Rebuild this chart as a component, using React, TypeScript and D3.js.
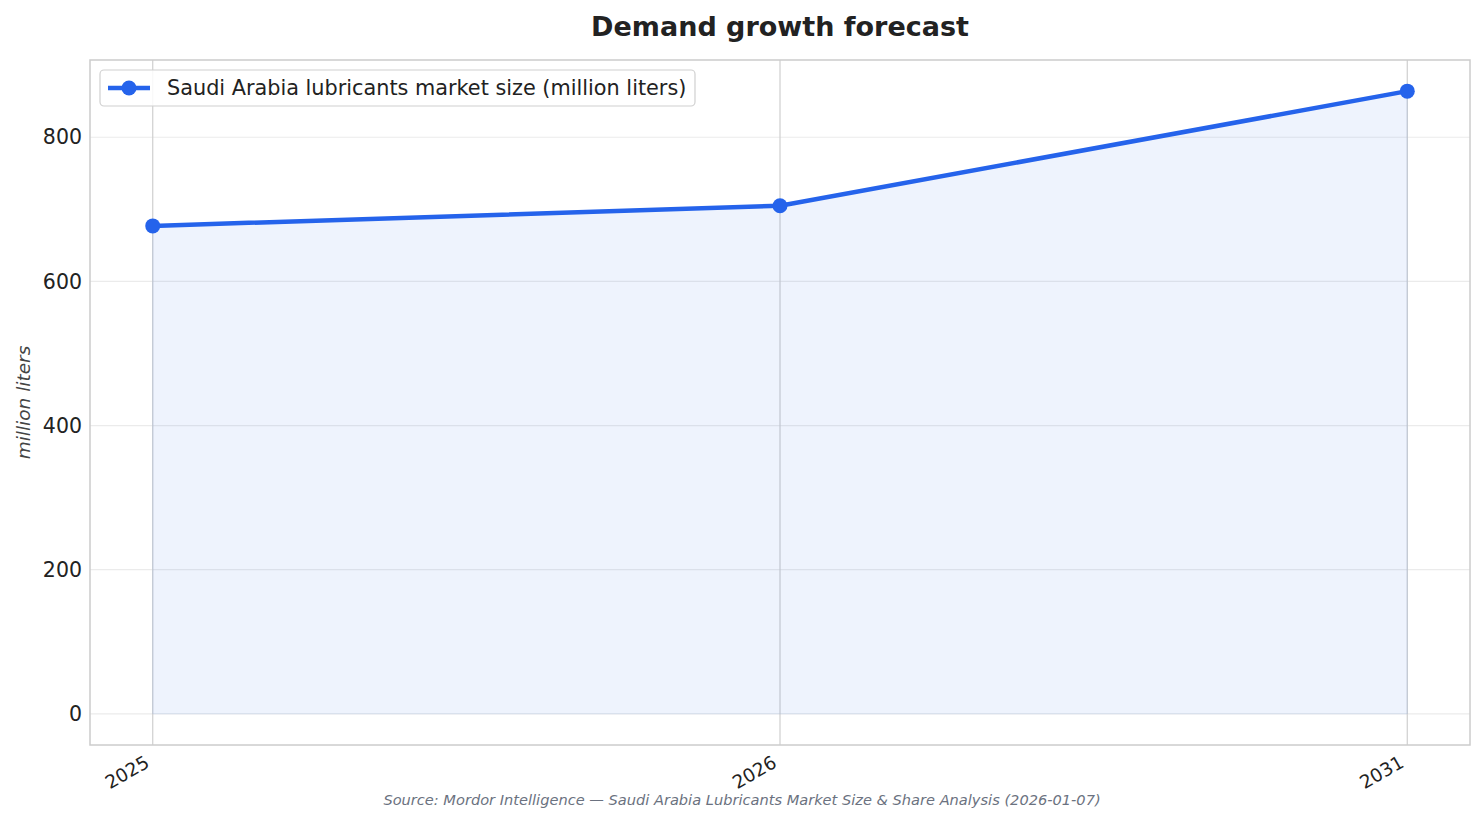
import * as d3 from 'd3'
import React from 'react'

const years = ['2025', '2026', '2031']
const marketSize = [677, 705, 864]
const yTicks = [0, 200, 400, 600, 800]

const seriesLabel = 'Saudi Arabia lubricants market size (million liters)'
const title = 'Demand growth forecast'
const source = 'Source: Mordor Intelligence \u2014 Saudi Arabia Lubricants Market Size & Share Analysis (2026-01-07)'

const W = 1484, H = 823
const FONT = 'DejaVu Sans, sans-serif'
const BLUE = '#2563eb'

export default function App() {
  const
    left = 90, right = 1470, top = 60, bottom = 745,
    maxV = d3.max(marketSize)!,
    pad = maxV * 0.05,
    x = d3.scaleLinear().domain([-0.1, years.length - 0.9]).range([left, right]),
    y = d3.scaleLinear().domain([-pad, maxV + pad]).range([bottom, top]),
    line = d3.line<number>().x((_, i) => x(i)).y(d => y(d)),
    area = d3.area<number>().x((_, i) => x(i)).y0(y(0)).y1(d => y(d))

  return (
    <svg width={W} height={H} style={{ position: 'absolute', left: 0, top: 0, background: '#fff' }} fontFamily={FONT}>
      <rect x={0} y={0} width={W} height={H} fill='#fff' />
      {yTicks.map(t => (
        <g key={t}>
          <line x1={left} x2={right} y1={y(t)} y2={y(t)} stroke='#ebebeb' strokeWidth={1.2} />
          <text x={left - 8} y={y(t)} dy='0.35em' textAnchor='end' fontSize={20.5} fill='#222'>{t}</text>
        </g>
      ))}
      {years.map((yr, i) => (
        <g key={yr}>
          <line x1={x(i)} x2={x(i)} y1={top} y2={bottom} stroke='#cfcfcf' strokeWidth={1.2} />
          <text transform={`translate(${x(i) - 9},${bottom + 9}) rotate(-30)`} textAnchor='end' dy='0.75em' fontSize={18.5} fill='#222'>{yr}</text>
        </g>
      ))}
      <path d={area(marketSize)!} fill={BLUE} fillOpacity={0.08} stroke={BLUE} strokeOpacity={0.08} />
      <path d={line(marketSize)!} fill='none' stroke={BLUE} strokeWidth={4.5} strokeLinejoin='round' />
      {marketSize.map((v, i) => (
        <circle key={i} cx={x(i)} cy={y(v)} r={7.5} fill={BLUE} />
      ))}
      <rect x={left} y={top} width={right - left} height={bottom - top} fill='none' stroke='#cccccc' strokeWidth={1.5} />

      <g>
        <rect x={100} y={70} width={595} height={36} rx={4} fill='#fff' fillOpacity={0.85} stroke='#d0d0d0' strokeWidth={1.2} />
        <line x1={108} x2={150} y1={88} y2={88} stroke={BLUE} strokeWidth={4.5} />
        <circle cx={129} cy={88} r={7.5} fill={BLUE} />
        <text x={167} y={88} dy='0.35em' fontSize={20.8} fill='#222'>{seriesLabel}</text>
      </g>

      <text x={(left + right) / 2} y={27} dy='0.35em' textAnchor='middle' fontSize={27} fontWeight='bold' fill='#222'>{title}</text>
      <text transform={`translate(24,${(top + bottom) / 2}) rotate(-90)`} textAnchor='middle' dy='0.35em' fontSize={18.5} fontStyle='italic' fill='#444'>million liters</text>
      <text x={742} y={800} dy='0.35em' textAnchor='middle' fontSize={14.6} fontStyle='italic' fill='#6b7280'>{source}</text>
    </svg>
  )
}
